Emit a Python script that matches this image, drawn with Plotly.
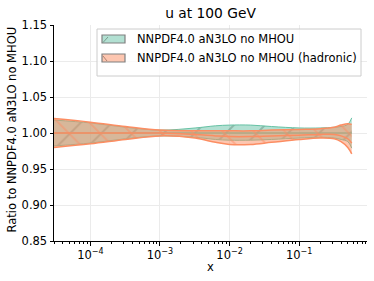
import numpy as np
import plotly.graph_objects as go

# ---- data ----
x_vals = [3.0e-5, 1e-4, 3.2e-4, 1e-3, 3.2e-3, 6.3e-3, 1e-2, 2e-2, 4e-2, 1e-1, 0.2, 0.32, 0.4, 0.5, 0.57]

green_central = [1.000] * 15
green_upper = [1.018, 1.014, 1.008, 1.004, 1.007, 1.010, 1.011, 1.011, 1.009, 1.007, 1.007, 1.008, 1.009, 1.012, 1.021]
green_lower = [0.982, 0.986, 0.992, 0.996, 0.994, 0.991, 0.990, 0.990, 0.991, 0.993, 0.994, 0.993, 0.991, 0.988, 0.979]

orange_central = [1.000, 1.000, 1.000, 1.000, 0.998, 0.996, 0.995, 0.995, 0.996, 0.997, 0.998, 0.998, 0.996, 0.992, 0.986]
orange_upper = [1.020, 1.015, 1.009, 1.004, 1.003, 1.003, 1.003, 1.003, 1.004, 1.005, 1.006, 1.008, 1.011, 1.013, 1.012]
orange_lower = [0.980, 0.985, 0.991, 0.996, 0.993, 0.987, 0.984, 0.984, 0.987, 0.991, 0.993, 0.992, 0.988, 0.980, 0.971]

labels = ["NNPDF4.0 aN3LO no MHOU", "NNPDF4.0 aN3LO no MHOU (hadronic)"]
y_ticks = [0.85, 0.90, 0.95, 1.00, 1.05, 1.10, 1.15]
x_ticks = [1e-4, 1e-3, 1e-2, 1e-1]
x_ticktext = ["10<sup>\u22124</sup>", "10<sup>\u22123</sup>", "10<sup>\u22122</sup>", "10<sup>\u22121</sup>"]

GREEN = "#66c2a5"
ORANGE = "#fc8d62"
FONT = "DejaVu Sans"
W, H = 374, 281
ML, MR, MT, MB = 54, 7, 25, 40

fig = go.Figure()


def add_band(upper, lower, central, color, fill, hatch, hatchcolor, width):
    fig.add_trace(go.Scatter(x=x_vals, y=upper, mode="lines", line=dict(color=color, width=width, shape="spline"),
                             showlegend=False, hoverinfo="skip"))
    fig.add_trace(go.Scatter(x=x_vals, y=lower, mode="lines", line=dict(color=color, width=width, shape="spline"),
                             fill="tonexty", fillcolor=fill,
                             fillpattern=dict(shape=hatch, fgcolor=hatchcolor, size=22, solidity=0.09,
                                              fillmode="overlay"),
                             showlegend=False, hoverinfo="skip"))
    fig.add_trace(go.Scatter(x=x_vals, y=central, mode="lines", line=dict(color=color, width=1.5, shape="spline"),
                             showlegend=False, hoverinfo="skip"))


add_band(green_upper, green_lower, green_central, GREEN, "rgba(102,194,165,0.5)", "/", "rgba(80,120,100,0.75)", 1.0)
add_band(orange_upper, orange_lower, orange_central, ORANGE, "rgba(252,141,98,0.5)", "\\", "rgba(252,141,98,0.95)", 1.5)

minor_vals = []
for e in range(-5, 0):
    for m in range(2, 10):
        minor_vals.append(m * 10.0 ** e)

pw = W - ML - MR
ph = H - MT - MB


def px(xp):
    return (xp - ML) / pw


def py(yp):
    return (H - MB - yp) / ph


shapes = []
annotations = []
# manual legend box
shapes.append(dict(type="rect", xref="paper", yref="paper", x0=px(97), x1=px(361), y0=py(76), y1=py(29),
                   line=dict(color="#cccccc", width=1), fillcolor="rgba(255,255,255,0.8)", layer="above"))
for i, (lab, fill, dirn) in enumerate([(labels[0], "rgba(102,194,165,0.5)", 1),
                                       (labels[1], "rgba(252,141,98,0.5)", -1)]):
    yc = 39 + 19 * i
    shapes.append(dict(type="rect", xref="paper", yref="paper", x0=px(102), x1=px(125),
                       y0=py(yc + 4), y1=py(yc - 4), line=dict(color="#808080", width=1.2),
                       fillcolor=fill, layer="above"))
    if dirn == 1:
        shapes.append(dict(type="line", xref="paper", yref="paper", x0=px(103), x1=px(108),
                           y0=py(yc + 3.5), y1=py(yc - 2), line=dict(color="#6a8a7a", width=0.8), layer="above"))
    else:
        shapes.append(dict(type="line", xref="paper", yref="paper", x0=px(103), x1=px(107),
                           y0=py(yc - 2), y1=py(yc + 3), line=dict(color="#9a7060", width=0.8), layer="above"))
    annotations.append(dict(text=lab, xref="paper", yref="paper", x=px(135), y=py(yc), xanchor="left",
                            yanchor="middle", showarrow=False, font=dict(size=11.5, family=FONT, color="black")))

annotations.append(dict(text="x", xref="paper", yref="paper", x=0.5, y=py(267), xanchor="center",
                        yanchor="middle", showarrow=False, font=dict(size=11.5, family=FONT, color="black")))
annotations.append(dict(text="Ratio to NNPDF4.0 aN3LO no MHOU", xref="paper", yref="paper", x=px(11.5),
                        y=py(130), xanchor="center", yanchor="middle", textangle=-90, showarrow=False,
                        font=dict(size=11.5, family=FONT, color="black")))

fig.update_layout(
    width=W, height=H,
    margin=dict(l=ML, r=MR, t=MT, b=MB, autoexpand=False),
    paper_bgcolor="white", plot_bgcolor="white",
    font=dict(family=FONT, size=11.5, color="black"),
    title=dict(text="u at 100 GeV", x=0.5, xref="paper", xanchor="center", y=1 - 13 / H, yref="container",
               yanchor="middle", font=dict(size=13.8, family=FONT, color="black")),
    showlegend=False,
    hovermode=False,
    shapes=shapes,
    annotations=annotations,
    xaxis=dict(type="log", range=[np.log10(3.0e-5), np.log10(0.944)], automargin=False,
               tickmode="array", tickvals=x_ticks, ticktext=x_ticktext,
               showline=True, linecolor="black", linewidth=1, mirror=False,
               ticks="outside", ticklen=3.5, tickwidth=0.8, tickcolor="black",
               showgrid=True, gridcolor="#ebebeb", gridwidth=0.8, zeroline=False,
               minor=dict(tickmode="array", tickvals=minor_vals, ticks="outside", ticklen=2,
                          tickwidth=0.6, tickcolor="black", showgrid=False)),
    yaxis=dict(range=[0.85, 1.15], tickmode="array", tickvals=y_ticks, tickformat=".2f", automargin=False,
               showline=True, linecolor="black", linewidth=1, mirror=False,
               ticks="outside", ticklen=3.5, tickwidth=0.8, tickcolor="black",
               showgrid=True, gridcolor="#ebebeb", gridwidth=0.8, zeroline=False),
)

fig.write_html("out.html", config={"displayModeBar": False},
               post_script="document.body.style.margin='0px';document.body.style.padding='0px';")
